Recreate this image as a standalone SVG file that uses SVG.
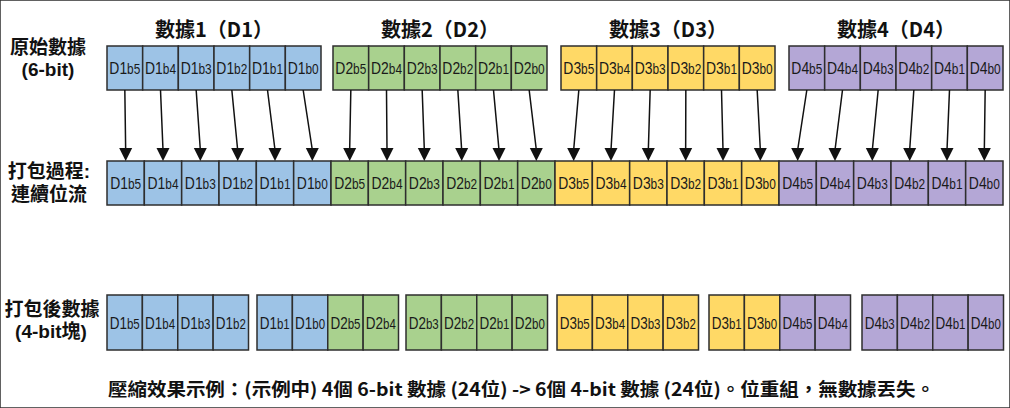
<svg xmlns="http://www.w3.org/2000/svg" xmlns:xlink="http://www.w3.org/1999/xlink" width="1010" height="408" viewBox="0 0 1010 408">
<defs>
<style>
.c1{fill:#9dc3e6}.c2{fill:#a9d18e}.c3{fill:#ffd966}.c4{fill:#b4a7d6}
rect{stroke:#2e2e2e;stroke-width:1.5}
.l{font-family:"Liberation Sans",Arial,sans-serif;font-size:17px;fill:#1a1a1a;text-anchor:middle}
.l tspan{font-size:14.5px}
.h{font-family:"Noto Sans CJK TC","Noto Sans CJK SC",sans-serif;font-weight:700;font-size:20px;fill:#111;text-anchor:middle}
.hs{font-family:"Liberation Sans","Noto Sans CJK TC","Noto Sans CJK SC",sans-serif;font-size:19px}
.cap{font-family:"Noto Sans CJK TC","Noto Sans CJK SC",sans-serif;font-weight:700;font-size:18px;fill:#111}
.ln{stroke:#111;stroke-width:1.5;fill:none}
</style>
<path id="ah" d="M-6.5,-13 L6.5,-13 L0,0 Z" fill="#111"/>
</defs>
<rect x="0" y="0" width="1010" height="408" fill="#fff" stroke="none"/>

<g id="labels">
<text class="h" x="214" y="37">數據1（D1）</text>
<text class="h" x="440" y="37">數據2（D2）</text>
<text class="h" x="668" y="37">數據3（D3）</text>
<text class="h" x="896" y="37">數據4（D4）</text>
<text class="h hs" x="48" y="54">原始數據</text>
<text class="h hs" x="48" y="76">(6-bit)</text>
<text class="h hs" x="49" y="178">打包過程:</text>
<text class="h hs" x="49" y="201">連續位流</text>
<text class="h hs" x="52" y="316">打包後數據</text>
<text class="h hs" x="51" y="338">(4-bit塊)</text>
<text class="cap" x="108" y="396" textLength="827" lengthAdjust="spacingAndGlyphs">壓縮效果示例：(示例中) 4個 6-bit 數據 (24位) -&gt; 6個 4-bit 數據 (24位)。位重組，無數據丟失。</text>
</g>

<g id="top-row">
<g id="t-D1b5"><rect class="c1" x="107" y="46" width="35.67" height="44"/><text class="l" x="124.83" y="74" textLength="31" lengthAdjust="spacingAndGlyphs">D1<tspan>b5</tspan></text></g>
<g id="t-D1b4"><rect class="c1" x="142.67" y="46" width="35.67" height="44"/><text class="l" x="160.5" y="74" textLength="31" lengthAdjust="spacingAndGlyphs">D1<tspan>b4</tspan></text></g>
<g id="t-D1b3"><rect class="c1" x="178.33" y="46" width="35.67" height="44"/><text class="l" x="196.17" y="74" textLength="31" lengthAdjust="spacingAndGlyphs">D1<tspan>b3</tspan></text></g>
<g id="t-D1b2"><rect class="c1" x="214" y="46" width="35.67" height="44"/><text class="l" x="231.83" y="74" textLength="31" lengthAdjust="spacingAndGlyphs">D1<tspan>b2</tspan></text></g>
<g id="t-D1b1"><rect class="c1" x="249.67" y="46" width="35.67" height="44"/><text class="l" x="267.5" y="74" textLength="31" lengthAdjust="spacingAndGlyphs">D1<tspan>b1</tspan></text></g>
<g id="t-D1b0"><rect class="c1" x="285.33" y="46" width="35.67" height="44"/><text class="l" x="303.17" y="74" textLength="31" lengthAdjust="spacingAndGlyphs">D1<tspan>b0</tspan></text></g>

<g id="t-D2b5"><rect class="c2" x="333" y="46" width="35.67" height="44"/><text class="l" x="350.83" y="74" textLength="31" lengthAdjust="spacingAndGlyphs">D2<tspan>b5</tspan></text></g>
<g id="t-D2b4"><rect class="c2" x="368.67" y="46" width="35.67" height="44"/><text class="l" x="386.5" y="74" textLength="31" lengthAdjust="spacingAndGlyphs">D2<tspan>b4</tspan></text></g>
<g id="t-D2b3"><rect class="c2" x="404.33" y="46" width="35.67" height="44"/><text class="l" x="422.17" y="74" textLength="31" lengthAdjust="spacingAndGlyphs">D2<tspan>b3</tspan></text></g>
<g id="t-D2b2"><rect class="c2" x="440" y="46" width="35.67" height="44"/><text class="l" x="457.83" y="74" textLength="31" lengthAdjust="spacingAndGlyphs">D2<tspan>b2</tspan></text></g>
<g id="t-D2b1"><rect class="c2" x="475.67" y="46" width="35.67" height="44"/><text class="l" x="493.5" y="74" textLength="31" lengthAdjust="spacingAndGlyphs">D2<tspan>b1</tspan></text></g>
<g id="t-D2b0"><rect class="c2" x="511.33" y="46" width="35.67" height="44"/><text class="l" x="529.17" y="74" textLength="31" lengthAdjust="spacingAndGlyphs">D2<tspan>b0</tspan></text></g>

<g id="t-D3b5"><rect class="c3" x="561" y="46" width="35.67" height="44"/><text class="l" x="578.83" y="74" textLength="31" lengthAdjust="spacingAndGlyphs">D3<tspan>b5</tspan></text></g>
<g id="t-D3b4"><rect class="c3" x="596.67" y="46" width="35.67" height="44"/><text class="l" x="614.5" y="74" textLength="31" lengthAdjust="spacingAndGlyphs">D3<tspan>b4</tspan></text></g>
<g id="t-D3b3"><rect class="c3" x="632.33" y="46" width="35.67" height="44"/><text class="l" x="650.17" y="74" textLength="31" lengthAdjust="spacingAndGlyphs">D3<tspan>b3</tspan></text></g>
<g id="t-D3b2"><rect class="c3" x="668" y="46" width="35.67" height="44"/><text class="l" x="685.83" y="74" textLength="31" lengthAdjust="spacingAndGlyphs">D3<tspan>b2</tspan></text></g>
<g id="t-D3b1"><rect class="c3" x="703.67" y="46" width="35.67" height="44"/><text class="l" x="721.5" y="74" textLength="31" lengthAdjust="spacingAndGlyphs">D3<tspan>b1</tspan></text></g>
<g id="t-D3b0"><rect class="c3" x="739.33" y="46" width="35.67" height="44"/><text class="l" x="757.17" y="74" textLength="31" lengthAdjust="spacingAndGlyphs">D3<tspan>b0</tspan></text></g>

<g id="t-D4b5"><rect class="c4" x="789" y="46" width="35.67" height="44"/><text class="l" x="806.83" y="74" textLength="31" lengthAdjust="spacingAndGlyphs">D4<tspan>b5</tspan></text></g>
<g id="t-D4b4"><rect class="c4" x="824.67" y="46" width="35.67" height="44"/><text class="l" x="842.5" y="74" textLength="31" lengthAdjust="spacingAndGlyphs">D4<tspan>b4</tspan></text></g>
<g id="t-D4b3"><rect class="c4" x="860.33" y="46" width="35.67" height="44"/><text class="l" x="878.17" y="74" textLength="31" lengthAdjust="spacingAndGlyphs">D4<tspan>b3</tspan></text></g>
<g id="t-D4b2"><rect class="c4" x="896" y="46" width="35.67" height="44"/><text class="l" x="913.83" y="74" textLength="31" lengthAdjust="spacingAndGlyphs">D4<tspan>b2</tspan></text></g>
<g id="t-D4b1"><rect class="c4" x="931.67" y="46" width="35.67" height="44"/><text class="l" x="949.5" y="74" textLength="31" lengthAdjust="spacingAndGlyphs">D4<tspan>b1</tspan></text></g>
<g id="t-D4b0"><rect class="c4" x="967.33" y="46" width="35.67" height="44"/><text class="l" x="985.17" y="74" textLength="31" lengthAdjust="spacingAndGlyphs">D4<tspan>b0</tspan></text></g>
</g>

<g id="middle-row">
<g id="m-D1b5"><rect class="c1" x="107" y="161" width="37.33" height="44"/><text class="l" x="125.67" y="189" textLength="31" lengthAdjust="spacingAndGlyphs">D1<tspan>b5</tspan></text></g>
<g id="m-D1b4"><rect class="c1" x="144.33" y="161" width="37.33" height="44"/><text class="l" x="163" y="189" textLength="31" lengthAdjust="spacingAndGlyphs">D1<tspan>b4</tspan></text></g>
<g id="m-D1b3"><rect class="c1" x="181.67" y="161" width="37.33" height="44"/><text class="l" x="200.33" y="189" textLength="31" lengthAdjust="spacingAndGlyphs">D1<tspan>b3</tspan></text></g>
<g id="m-D1b2"><rect class="c1" x="219" y="161" width="37.33" height="44"/><text class="l" x="237.67" y="189" textLength="31" lengthAdjust="spacingAndGlyphs">D1<tspan>b2</tspan></text></g>
<g id="m-D1b1"><rect class="c1" x="256.33" y="161" width="37.33" height="44"/><text class="l" x="275" y="189" textLength="31" lengthAdjust="spacingAndGlyphs">D1<tspan>b1</tspan></text></g>
<g id="m-D1b0"><rect class="c1" x="293.67" y="161" width="37.33" height="44"/><text class="l" x="312.33" y="189" textLength="31" lengthAdjust="spacingAndGlyphs">D1<tspan>b0</tspan></text></g>
<g id="m-D2b5"><rect class="c2" x="331" y="161" width="37.33" height="44"/><text class="l" x="349.67" y="189" textLength="31" lengthAdjust="spacingAndGlyphs">D2<tspan>b5</tspan></text></g>
<g id="m-D2b4"><rect class="c2" x="368.33" y="161" width="37.33" height="44"/><text class="l" x="387" y="189" textLength="31" lengthAdjust="spacingAndGlyphs">D2<tspan>b4</tspan></text></g>
<g id="m-D2b3"><rect class="c2" x="405.67" y="161" width="37.33" height="44"/><text class="l" x="424.33" y="189" textLength="31" lengthAdjust="spacingAndGlyphs">D2<tspan>b3</tspan></text></g>
<g id="m-D2b2"><rect class="c2" x="443" y="161" width="37.33" height="44"/><text class="l" x="461.67" y="189" textLength="31" lengthAdjust="spacingAndGlyphs">D2<tspan>b2</tspan></text></g>
<g id="m-D2b1"><rect class="c2" x="480.33" y="161" width="37.33" height="44"/><text class="l" x="499" y="189" textLength="31" lengthAdjust="spacingAndGlyphs">D2<tspan>b1</tspan></text></g>
<g id="m-D2b0"><rect class="c2" x="517.67" y="161" width="37.33" height="44"/><text class="l" x="536.33" y="189" textLength="31" lengthAdjust="spacingAndGlyphs">D2<tspan>b0</tspan></text></g>
<g id="m-D3b5"><rect class="c3" x="555" y="161" width="37.33" height="44"/><text class="l" x="573.67" y="189" textLength="31" lengthAdjust="spacingAndGlyphs">D3<tspan>b5</tspan></text></g>
<g id="m-D3b4"><rect class="c3" x="592.33" y="161" width="37.33" height="44"/><text class="l" x="611" y="189" textLength="31" lengthAdjust="spacingAndGlyphs">D3<tspan>b4</tspan></text></g>
<g id="m-D3b3"><rect class="c3" x="629.67" y="161" width="37.33" height="44"/><text class="l" x="648.33" y="189" textLength="31" lengthAdjust="spacingAndGlyphs">D3<tspan>b3</tspan></text></g>
<g id="m-D3b2"><rect class="c3" x="667" y="161" width="37.33" height="44"/><text class="l" x="685.67" y="189" textLength="31" lengthAdjust="spacingAndGlyphs">D3<tspan>b2</tspan></text></g>
<g id="m-D3b1"><rect class="c3" x="704.33" y="161" width="37.33" height="44"/><text class="l" x="723" y="189" textLength="31" lengthAdjust="spacingAndGlyphs">D3<tspan>b1</tspan></text></g>
<g id="m-D3b0"><rect class="c3" x="741.67" y="161" width="37.33" height="44"/><text class="l" x="760.33" y="189" textLength="31" lengthAdjust="spacingAndGlyphs">D3<tspan>b0</tspan></text></g>
<g id="m-D4b5"><rect class="c4" x="779" y="161" width="37.33" height="44"/><text class="l" x="797.67" y="189" textLength="31" lengthAdjust="spacingAndGlyphs">D4<tspan>b5</tspan></text></g>
<g id="m-D4b4"><rect class="c4" x="816.33" y="161" width="37.33" height="44"/><text class="l" x="835" y="189" textLength="31" lengthAdjust="spacingAndGlyphs">D4<tspan>b4</tspan></text></g>
<g id="m-D4b3"><rect class="c4" x="853.67" y="161" width="37.33" height="44"/><text class="l" x="872.33" y="189" textLength="31" lengthAdjust="spacingAndGlyphs">D4<tspan>b3</tspan></text></g>
<g id="m-D4b2"><rect class="c4" x="891" y="161" width="37.33" height="44"/><text class="l" x="909.67" y="189" textLength="31" lengthAdjust="spacingAndGlyphs">D4<tspan>b2</tspan></text></g>
<g id="m-D4b1"><rect class="c4" x="928.33" y="161" width="37.33" height="44"/><text class="l" x="947" y="189" textLength="31" lengthAdjust="spacingAndGlyphs">D4<tspan>b1</tspan></text></g>
<g id="m-D4b0"><rect class="c4" x="965.67" y="161" width="37.33" height="44"/><text class="l" x="984.33" y="189" textLength="31" lengthAdjust="spacingAndGlyphs">D4<tspan>b0</tspan></text></g>
</g>

<g id="bottom-row">
<g id="b-D1b5"><rect class="c1" x="107" y="295" width="35.38" height="55"/><text class="l" x="124.69" y="328.5" textLength="30" lengthAdjust="spacingAndGlyphs">D1<tspan>b5</tspan></text></g>
<g id="b-D1b4"><rect class="c1" x="142.38" y="295" width="35.38" height="55"/><text class="l" x="160.06" y="328.5" textLength="30" lengthAdjust="spacingAndGlyphs">D1<tspan>b4</tspan></text></g>
<g id="b-D1b3"><rect class="c1" x="177.75" y="295" width="35.38" height="55"/><text class="l" x="195.44" y="328.5" textLength="30" lengthAdjust="spacingAndGlyphs">D1<tspan>b3</tspan></text></g>
<g id="b-D1b2"><rect class="c1" x="213.13" y="295" width="35.38" height="55"/><text class="l" x="230.81" y="328.5" textLength="30" lengthAdjust="spacingAndGlyphs">D1<tspan>b2</tspan></text></g>

<g id="b-D1b1"><rect class="c1" x="257" y="295" width="35.38" height="55"/><text class="l" x="274.69" y="328.5" textLength="30" lengthAdjust="spacingAndGlyphs">D1<tspan>b1</tspan></text></g>
<g id="b-D1b0"><rect class="c1" x="292.38" y="295" width="35.38" height="55"/><text class="l" x="310.06" y="328.5" textLength="30" lengthAdjust="spacingAndGlyphs">D1<tspan>b0</tspan></text></g>
<g id="b-D2b5"><rect class="c2" x="327.75" y="295" width="35.38" height="55"/><text class="l" x="345.44" y="328.5" textLength="30" lengthAdjust="spacingAndGlyphs">D2<tspan>b5</tspan></text></g>
<g id="b-D2b4"><rect class="c2" x="363.13" y="295" width="35.38" height="55"/><text class="l" x="380.81" y="328.5" textLength="30" lengthAdjust="spacingAndGlyphs">D2<tspan>b4</tspan></text></g>

<g id="b-D2b3"><rect class="c2" x="406" y="295" width="35.38" height="55"/><text class="l" x="423.69" y="328.5" textLength="30" lengthAdjust="spacingAndGlyphs">D2<tspan>b3</tspan></text></g>
<g id="b-D2b2"><rect class="c2" x="441.38" y="295" width="35.38" height="55"/><text class="l" x="459.06" y="328.5" textLength="30" lengthAdjust="spacingAndGlyphs">D2<tspan>b2</tspan></text></g>
<g id="b-D2b1"><rect class="c2" x="476.75" y="295" width="35.38" height="55"/><text class="l" x="494.44" y="328.5" textLength="30" lengthAdjust="spacingAndGlyphs">D2<tspan>b1</tspan></text></g>
<g id="b-D2b0"><rect class="c2" x="512.13" y="295" width="35.38" height="55"/><text class="l" x="529.81" y="328.5" textLength="30" lengthAdjust="spacingAndGlyphs">D2<tspan>b0</tspan></text></g>

<g id="b-D3b5"><rect class="c3" x="557" y="295" width="35.38" height="55"/><text class="l" x="574.69" y="328.5" textLength="30" lengthAdjust="spacingAndGlyphs">D3<tspan>b5</tspan></text></g>
<g id="b-D3b4"><rect class="c3" x="592.38" y="295" width="35.38" height="55"/><text class="l" x="610.06" y="328.5" textLength="30" lengthAdjust="spacingAndGlyphs">D3<tspan>b4</tspan></text></g>
<g id="b-D3b3"><rect class="c3" x="627.75" y="295" width="35.38" height="55"/><text class="l" x="645.44" y="328.5" textLength="30" lengthAdjust="spacingAndGlyphs">D3<tspan>b3</tspan></text></g>
<g id="b-D3b2"><rect class="c3" x="663.13" y="295" width="35.38" height="55"/><text class="l" x="680.81" y="328.5" textLength="30" lengthAdjust="spacingAndGlyphs">D3<tspan>b2</tspan></text></g>

<g id="b-D3b1"><rect class="c3" x="709" y="295" width="35.38" height="55"/><text class="l" x="726.69" y="328.5" textLength="30" lengthAdjust="spacingAndGlyphs">D3<tspan>b1</tspan></text></g>
<g id="b-D3b0"><rect class="c3" x="744.38" y="295" width="35.38" height="55"/><text class="l" x="762.06" y="328.5" textLength="30" lengthAdjust="spacingAndGlyphs">D3<tspan>b0</tspan></text></g>
<g id="b-D4b5"><rect class="c4" x="779.75" y="295" width="35.38" height="55"/><text class="l" x="797.44" y="328.5" textLength="30" lengthAdjust="spacingAndGlyphs">D4<tspan>b5</tspan></text></g>
<g id="b-D4b4"><rect class="c4" x="815.13" y="295" width="35.38" height="55"/><text class="l" x="832.81" y="328.5" textLength="30" lengthAdjust="spacingAndGlyphs">D4<tspan>b4</tspan></text></g>

<g id="b-D4b3"><rect class="c4" x="862" y="295" width="35.38" height="55"/><text class="l" x="879.69" y="328.5" textLength="30" lengthAdjust="spacingAndGlyphs">D4<tspan>b3</tspan></text></g>
<g id="b-D4b2"><rect class="c4" x="897.38" y="295" width="35.38" height="55"/><text class="l" x="915.06" y="328.5" textLength="30" lengthAdjust="spacingAndGlyphs">D4<tspan>b2</tspan></text></g>
<g id="b-D4b1"><rect class="c4" x="932.75" y="295" width="35.38" height="55"/><text class="l" x="950.44" y="328.5" textLength="30" lengthAdjust="spacingAndGlyphs">D4<tspan>b1</tspan></text></g>
<g id="b-D4b0"><rect class="c4" x="968.13" y="295" width="35.38" height="55"/><text class="l" x="985.81" y="328.5" textLength="30" lengthAdjust="spacingAndGlyphs">D4<tspan>b0</tspan></text></g>
</g>

<g id="connectors">
<path class="ln" d="M124.83,90L125.67,150M160.5,90L163,150M196.17,90L200.33,150M231.83,90L237.67,150M267.5,90L275,150M303.17,90L312.33,150M350.83,90L349.67,150M386.5,90L387,150M422.17,90L424.33,150M457.83,90L461.67,150M493.5,90L499,150M529.17,90L536.33,150M578.83,90L573.67,150M614.5,90L611,150M650.17,90L648.33,150M685.83,90L685.67,150M721.5,90L723,150M757.17,90L760.33,150M806.83,90L797.67,150M842.5,90L835,150M878.17,90L872.33,150M913.83,90L909.67,150M949.5,90L947,150M985.17,90L984.33,150"/>
<use xlink:href="#ah" x="125.67" y="161"/><use xlink:href="#ah" x="163" y="161"/><use xlink:href="#ah" x="200.33" y="161"/><use xlink:href="#ah" x="237.67" y="161"/><use xlink:href="#ah" x="275" y="161"/><use xlink:href="#ah" x="312.33" y="161"/>
<use xlink:href="#ah" x="349.67" y="161"/><use xlink:href="#ah" x="387" y="161"/><use xlink:href="#ah" x="424.33" y="161"/><use xlink:href="#ah" x="461.67" y="161"/><use xlink:href="#ah" x="499" y="161"/><use xlink:href="#ah" x="536.33" y="161"/>
<use xlink:href="#ah" x="573.67" y="161"/><use xlink:href="#ah" x="611" y="161"/><use xlink:href="#ah" x="648.33" y="161"/><use xlink:href="#ah" x="685.67" y="161"/><use xlink:href="#ah" x="723" y="161"/><use xlink:href="#ah" x="760.33" y="161"/>
<use xlink:href="#ah" x="797.67" y="161"/><use xlink:href="#ah" x="835" y="161"/><use xlink:href="#ah" x="872.33" y="161"/><use xlink:href="#ah" x="909.67" y="161"/><use xlink:href="#ah" x="947" y="161"/><use xlink:href="#ah" x="984.33" y="161"/>
</g>
</svg>
